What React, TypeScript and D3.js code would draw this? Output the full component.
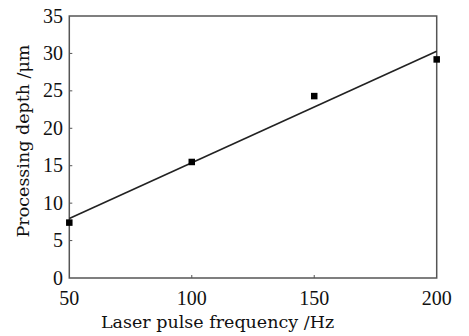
import React from "react";
import * as d3 from "d3";

const frequencies = [50, 100, 150, 200];
const depths = [7.4, 15.5, 24.3, 29.2];
const fitLine = [
  { x: 50, y: 7.95 },
  { x: 200, y: 30.3 },
];
const xTicks = [50, 100, 150, 200];
const yTicks = [0, 5, 10, 15, 20, 25, 30, 35];

const W = 469;
const H = 336;
const left = 69.3;
const right = 436.7;
const top = 16;
const bottom = 278;
const TICK_FONT = "Liberation Serif";
const TITLE_FONT = "DejaVu Serif";

export default function App() {
  const x = d3.scaleLinear().domain([50, 200]).range([left, right]);
  const y = d3.scaleLinear().domain([0, 35]).range([bottom, top]);
  const line = d3
    .line<{ x: number; y: number }>()
    .x((d) => x(d.x))
    .y((d) => y(d.y));
  const ms = 6.5;
  return (
    <svg
      width={W}
      height={H}
      style={{ position: "absolute", left: 0, top: 0, background: "#fff" }}
    >
      <rect
        x={left}
        y={top}
        width={right - left}
        height={bottom - top}
        fill="none"
        stroke="#555"
        strokeWidth={1.5}
      />
      {yTicks.map((t) => (
        <g key={"y" + t}>
          {t > 0 && t < 35 && (
            <line x1={left} x2={left + 3} y1={y(t)} y2={y(t)} stroke="#555" strokeWidth={1} />
          )}
          <text x={63} y={y(t)} dy="0.33em" textAnchor="end" fontSize={20} style={{ fontFamily: TICK_FONT }} fill="#111">
            {t}
          </text>
        </g>
      ))}
      {xTicks.map((t) => (
        <g key={"x" + t}>
          {t > 50 && t < 200 && (
            <line x1={x(t)} x2={x(t)} y1={bottom} y2={bottom - 3} stroke="#555" strokeWidth={1} />
          )}
          <text x={x(t)} y={305} textAnchor="middle" fontSize={20} style={{ fontFamily: TICK_FONT }} fill="#111">
            {t}
          </text>
        </g>
      ))}
      <path d={line(fitLine) || ""} fill="none" stroke="#222" strokeWidth={1.6} />
      {frequencies.map((f, i) => (
        <rect
          key={"p" + f}
          x={x(f) - ms / 2}
          y={y(depths[i]) - ms / 2}
          width={ms}
          height={ms}
          fill="#000"
        />
      ))}
      <text x={217.5} y={327.5} textAnchor="middle" fontSize={17.5} style={{ fontFamily: TITLE_FONT }} fill="#111">
        Laser pulse frequency /Hz
      </text>
      <text
        transform="translate(29, 141) rotate(-90)"
        textAnchor="middle"
        fontSize={17.5}
        style={{ fontFamily: TITLE_FONT }}
        fill="#111"
      >
        Processing depth /μm
      </text>
    </svg>
  );
}
